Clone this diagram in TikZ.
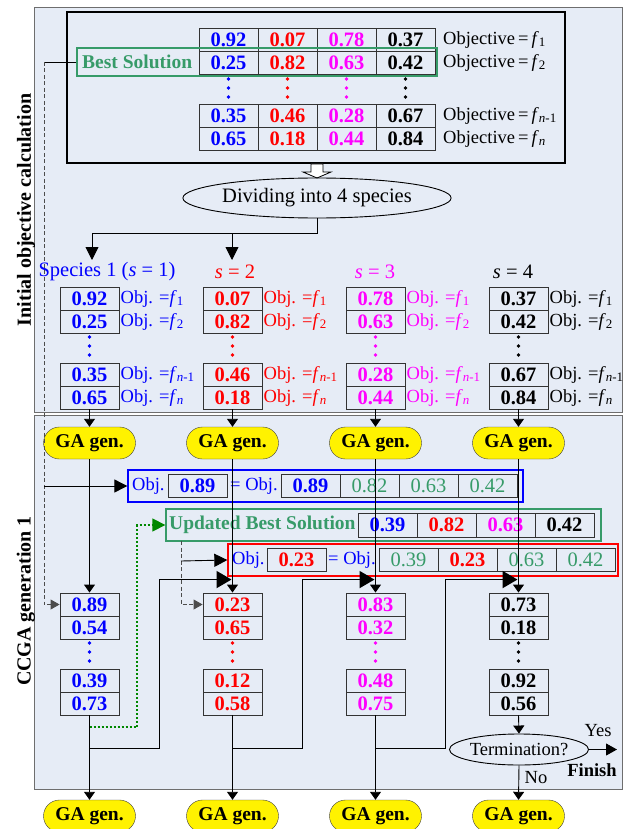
\documentclass[tikz,border=0pt]{standalone}
\usepackage{fontspec}
\setmainfont{Liberation Serif}
\usetikzlibrary{shapes.geometric,arrows.meta,calc}

\definecolor{panelbg}{RGB}{230,236,246}
\definecolor{panelln}{RGB}{110,110,110}
\definecolor{sgreen}{RGB}{55,155,105}
\definecolor{dgreen}{RGB}{0,135,0}
\definecolor{colB}{RGB}{0,0,255}
\definecolor{colR}{RGB}{255,0,0}
\definecolor{colM}{RGB}{255,0,255}
\colorlet{colK}{black}

\newcommand\fNum{\fontsize{20.5}{20.5}\selectfont\bfseries}
\newcommand\fObj{\fontsize{18.5}{18.5}\selectfont}
\newcommand\fSp{\fontsize{20.5}{20.5}\selectfont}
\newcommand\fGa{\fontsize{19.5}{19.5}\selectfont\bfseries}
\newcommand\fSide{\fontsize{20}{20}\selectfont\bfseries}

\begin{document}
\begin{tikzpicture}[x=1pt,y=-1pt,
  panel/.style={draw=panelln, fill=panelbg, line width=1pt},
  cell/.style={draw=black!80, line width=0.9pt, minimum width=59pt, minimum height=23pt, inner sep=0pt, font=\fNum},
  gcell/.style={cell, font=\fontsize{20.5}{20.5}\selectfont, text=sgreen},
  objl/.style={anchor=west, inner sep=0pt, font=\fObj},
  gabox/.style={draw=black!75, fill=yellow, rounded corners=16pt, minimum width=92pt, minimum height=32pt, inner sep=0pt, font=\fGa},
  thinarr/.style={line width=0.9pt, -{Triangle[length=8pt,width=11pt]}},
  midarr/.style={line width=0.9pt, -{Triangle[length=13pt,width=13pt]}},
  bigarr/.style={line width=1.8pt, -{Triangle[length=15pt,width=17pt]}},
  dashln/.style={draw=black!70, line width=0.9pt, dash pattern=on 4pt off 2.5pt},
  hlbox/.style={line width=1.3pt, inner sep=0pt, minimum height=32pt}
]
\useasboundingbox (0,0) rectangle (626,829);

% two stage panels
\draw[panel] (34,8) rectangle (622,412);
\draw[panel] (34,415) rectangle (622,789);

\node[rotate=90, font=\fSide] (lab1) at (26,210) {Initial objective calculation};
\node[rotate=90, font=\fSide] (lab2) at (26,601) {CCGA generation 1};

% initial population
\node[draw, line width=2.6pt, minimum width=498pt, minimum height=151pt, inner sep=0pt] (topbox) at (316,87.5) {};
\foreach \r/\y/\a/\b/\c/\d in {1/39.5/0.92/0.07/0.78/0.37, 2/62.5/0.25/0.82/0.63/0.42, 3/115.5/0.35/0.46/0.28/0.67, 4/138.5/0.65/0.18/0.44/0.84} {
  \node[cell, text=colB] (t\r-1) at (228.5,\y) {\a};
  \node[cell, text=colR] (t\r-2) at (287.5,\y) {\b};
  \node[cell, text=colM] (t\r-3) at (346.5,\y) {\c};
  \node[cell, text=colK] (t\r-4) at (405.5,\y) {\d};
}
\foreach \x/\col in {228.5/colB, 287.5/colR, 346.5/colM, 405.5/colK}
  \foreach \y in {79,88,97} \fill[fill=\col] (\x,\y) circle (1.8);
\node[objl] (ob1) at (443,39.5) {Objective\,=\,\textit{f}\textsubscript{1}};
\node[objl] (ob2) at (443,62.5) {Objective\,=\,\textit{f}\textsubscript{2}};
\node[objl] (ob3) at (443,115.5) {Objective\,=\,\textit{f}\textsubscript{\textit{n}-1}};
\node[objl] (ob4) at (443,138.5) {Objective\,=\,\textit{f}\textsubscript{\textit{n}}};

\node[draw=sgreen, line width=1.3pt, minimum width=360pt, minimum height=28pt, inner sep=0pt] (best) at (257,62) {};
\node[anchor=west, inner sep=0pt, text=sgreen, font=\fGa] (besttxt) at (82,62) {Best Solution};

% hollow arrow into the division step
\draw[line width=0.8pt, fill=white] (311,164) -- (323,164) -- (323,172) -- (331,172) -- (317,178) -- (303,172) -- (311,172) -- cycle;
\node[ellipse, draw, line width=0.9pt, minimum width=251pt, minimum height=40pt, inner sep=0pt, font=\fSp] (divide) at (317,198) {Dividing into 4 species};

\coordinate (a1) at (92,260);
\coordinate (a2) at (232,260);
\coordinate (br2) at (232,233);
\draw[midarr] (divide.south) -- (317,233) -| (a1);
\draw[midarr] (br2) -- (a2);

\node[text=colB, font=\fSp] (sl1) at (107,272) {Species 1 (\textit{s} = 1)};
\node[text=colR, font=\fSp] (sl2) at (235,272) {\textit{s} = 2};
\node[text=colM, font=\fSp] (sl3) at (375,272) {\textit{s} = 3};
\node[text=colK, font=\fSp] (sl4) at (513,272) {\textit{s} = 4};

% species populations before and after one generation
\foreach \k/\cx/\col/\a/\b/\c/\d in {1/89.5/colB/0.92/0.25/0.35/0.65, 2/232.5/colR/0.07/0.82/0.46/0.18, 3/375.5/colM/0.78/0.63/0.28/0.44, 4/518.5/colK/0.37/0.42/0.67/0.84} {
  \node[cell, text=\col] (s\k-1) at (\cx,298.5) {\a};
  \node[cell, text=\col] (s\k-2) at (\cx,321.5) {\b};
  \node[cell, text=\col] (s\k-3) at (\cx,374.5) {\c};
  \node[cell, text=\col] (s\k-4) at (\cx,397.5) {\d};
  \foreach \y in {337,346,355} \fill[fill=\col] (\cx,\y) circle (1.8);
  \node[objl, text=\col] (so\k-1) at (\cx+31,298.5) {Obj. =\textit{f}\textsubscript{1}};
  \node[objl, text=\col] (so\k-2) at (\cx+31,321.5) {Obj. =\textit{f}\textsubscript{2}};
  \node[objl, text=\col] (so\k-3) at (\cx+31,374.5) {Obj. =\textit{f}\textsubscript{\textit{n}-1}};
  \node[objl, text=\col] (so\k-4) at (\cx+31,397.5) {Obj. =\textit{f}\textsubscript{\textit{n}}};
  \node[gabox] (ga\k) at (\cx,443) {GA gen.};
  \node[gabox] (gb\k) at (\cx,816) {GA gen.};
  \draw[thinarr] (s\k-4.south) -- (ga\k.north);
}
\foreach \k/\cx/\col/\a/\b/\c/\d in {1/89.5/colB/0.89/0.54/0.39/0.73, 2/232.5/colR/0.23/0.65/0.12/0.58, 3/375.5/colM/0.83/0.32/0.48/0.75, 4/518.5/colK/0.73/0.18/0.92/0.56} {
  \node[cell, text=\col] (g\k-1) at (\cx,604.5) {\a};
  \node[cell, text=\col] (g\k-2) at (\cx,627.5) {\b};
  \node[cell, text=\col] (g\k-3) at (\cx,680.5) {\c};
  \node[cell, text=\col] (g\k-4) at (\cx,703.5) {\d};
  \foreach \y in {643,652,661} \fill[fill=\col] (\cx,\y) circle (1.8);
}

% evaluation of species 1
\node[hlbox, draw=colB, minimum width=395pt] (bluebox) at (325.5,486) {};
\node[objl, text=colB] (bo1) at (132,486) {Obj.};
\node[cell, text=colB] (bv0) at (197.5,486) {0.89};
\node[objl, text=colB] (bo2) at (230,486) {= Obj.};
\node[cell, text=colB] (bv1) at (310.5,486) {0.89};
\node[gcell] (bv2) at (369.5,486) {0.82};
\node[gcell] (bv3) at (428.5,486) {0.63};
\node[gcell] (bv4) at (487.5,486) {0.42};

% updated best solution
\node[hlbox, draw=sgreen, minimum width=435pt] (upd) at (383.5,525) {};
\node[anchor=west, inner sep=0pt, text=sgreen, font=\fGa] (updtxt) at (169,525) {Updated Best Solution};
\node[cell, text=colB, minimum height=24pt] (uv1) at (387.5,525) {0.39};
\node[cell, text=colR, minimum height=24pt] (uv2) at (446.5,525) {0.82};
\node[cell, text=colM, minimum height=24pt] (uv3) at (505.5,525) {0.63};
\node[cell, text=colK, minimum height=24pt] (uv4) at (564.5,525) {0.42};

% evaluation of species 2
\node[hlbox, draw=colR, minimum width=390pt] (redbox) at (423,560) {};
\node[objl, text=colB] (ro1) at (232,560) {Obj.};
\node[cell, text=colR] (rv0) at (296.5,560) {0.23};
\node[objl, text=colB] (ro2) at (328,560) {= Obj.};
\node[gcell] (rv1) at (408.5,560) {0.39};
\node[cell, text=colR] (rv2) at (467.5,560) {0.23};
\node[gcell] (rv3) at (526.5,560) {0.63};
\node[gcell] (rv4) at (585.5,560) {0.42};

% best-solution feed lines
\coordinate (bl) at (44,62);
\coordinate (bj) at (44,486);
\draw[line width=0.9pt] (best.west) -- (bl);
\draw[dashln, -{Triangle[length=9pt,width=10pt]}] (bl) |- (g1-1.west);
\draw[midarr] (bj) -- (bluebox.west);

\coordinate (ub) at (181,541);
\coordinate (uj) at (181,561);
\draw[dashln, -{Triangle[length=9pt,width=10pt]}] (ub) |- (g2-1.west);
\draw[midarr] (uj) -- (redbox.west);

\coordinate (gd) at (89.5,727);
\draw[dgreen, line width=1.3pt, dash pattern=on 2pt off 2pt, -{Triangle[length=13pt,width=13pt]}] (gd) -- (137,727) |- (upd.west);

% generation flow
\foreach \k in {1,2,3,4} \draw[thinarr] (ga\k.south) -- (g\k-1.north);
\foreach \k in {1,2,3} \draw[thinarr] (g\k-4.south) -- (gb\k.north);
\foreach \k/\n in {1/2,2/3,3/4}
  \draw[bigarr] ($(g\k-4.south)+(0,33)$) -- ++(70,0) |- ($(g\n-1.north)+(-1,-13)$);

% termination test
\node[ellipse, draw, line width=0.9pt, minimum width=135pt, minimum height=31pt, inner sep=0pt, font=\fObj] (term) at (519,749.5) {Termination?};
\coordinate (fin) at (617,749.5);
\draw[thinarr] (g4-4.south) -- (term.north);
\draw[thinarr] (term.south) -- (gb4.north);
\draw[line width=0.9pt, -{Triangle[length=11pt,width=12pt]}] (term.east) -- (fin);
\node[font=\fObj] (yes) at (598,731) {Yes};
\node[font=\fObj\bfseries] (finish) at (592,770) {Finish};
\node[font=\fObj] (no) at (536,778) {No};
\end{tikzpicture}
\end{document}
